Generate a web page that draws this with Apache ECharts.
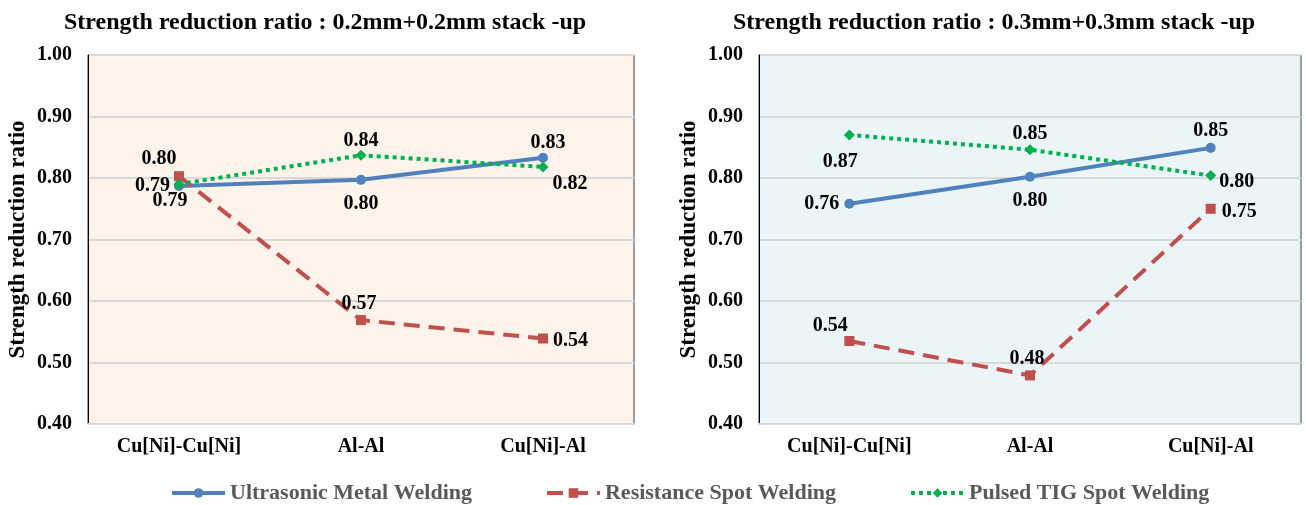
<!DOCTYPE html>
<html>
<head>
<meta charset="utf-8">
<script src="https://cdn.jsdelivr.net/npm/echarts@6/dist/echarts.min.js"></script>
<style>
html,body{margin:0;padding:0;background:#fff;}
#chart{width:1306px;height:505px;}
</style>
</head>
<body>
<div id="chart"></div>
<script>
// ---- data ----
const categories = ['Cu[Ni]-Cu[Ni]', 'Al-Al', 'Cu[Ni]-Al'];
const seriesNames = ['Ultrasonic Metal Welding', 'Resistance Spot Welding', 'Pulsed TIG Spot Welding'];
const titles = ['Strength reduction ratio : 0.2mm+0.2mm stack -up', 'Strength reduction ratio : 0.3mm+0.3mm stack -up'];
const yTicks = [0.40, 0.50, 0.60, 0.70, 0.80, 0.90, 1.00];
const yName = 'Strength reduction ratio';

const left_ultrasonic = [0.787, 0.797, 0.833];
const left_resistance = [0.803, 0.569, 0.539];
const left_tig        = [0.790, 0.837, 0.818];

const right_ultrasonic = [0.758, 0.802, 0.849];
const right_resistance = [0.535, 0.479, 0.750];
const right_tig        = [0.870, 0.846, 0.804];

// ---- styling ----
const FONT = '"Liberation Serif", "Times New Roman", serif';
const colors = ['#4F81BD', '#C0504D', '#00B050'];
const symbols = ['circle', 'rect', 'diamond'];
const symbolSizes = [10, 10, 11];
const lineTypes = ['solid', [16, 9], [4, 4]];

// label placement per chart / series / point
const L = (position, distance, offset) => ({ position, distance, offset: offset || [0, 0] });
const labelPlacement = [
  [
    [L('left', 4), L('bottom', 9), L('top', 0, [5, 0])],
    [L('top', 2, [-20, 0]), L('top', 1, [-2, 0]), L('right', 5, [0, 2])],
    [L('bottom', 1, [-9, 0]), L('top', -1), L('right', 4, [0, 17])]
  ],
  [
    [L('left', 5), L('bottom', 9), L('top', 2)],
    [L('top', 0, [-19, 0]), L('top', 2, [-3, 0]), L('right', 6, [0, 3])],
    [L('bottom', 11, [-9, 0]), L('top', 0), L('right', 3, [0, 6])]
  ]
];

const chartData = [
  [left_ultrasonic, left_resistance, left_tig],
  [right_ultrasonic, right_resistance, right_tig]
];

const grids = [
  { left: 88, right: 672, top: 55, bottom: 81, backgroundColor: '#FDF3EA' },
  { left: 759, right: 5, top: 55, bottom: 81, backgroundColor: '#EBF4F7' }
];

const chart = echarts.init(document.getElementById('chart'), null, { renderer: 'canvas' });

const series = [];
chartData.forEach((sets, gi) => {
  sets.forEach((vals, si) => {
    series.push({
      name: seriesNames[si],
      type: 'line',
      xAxisIndex: gi,
      yAxisIndex: gi,
      data: vals.map((v, pi) => {
        const p = labelPlacement[gi][si][pi];
        return { value: v, label: { position: p.position, distance: p.distance, offset: p.offset } };
      }),
      symbol: symbols[si],
      symbolSize: symbolSizes[si],
      showAllSymbol: true,
      color: colors[si],
      itemStyle: { color: colors[si] },
      lineStyle: { color: colors[si], width: 4, type: lineTypes[si], cap: 'butt' },
      label: {
        show: true,
        formatter: p => p.value.toFixed(2),
        fontFamily: FONT, fontWeight: 'bold', fontSize: 20, color: '#000'
      },
      emphasis: { disabled: true },
      z: 3 + si
    });
  });
});

const option = {
  animation: false,
  title: titles.map((t, i) => ({
    text: t,
    left: i === 0 ? 59 : 728,
    top: 6,
    textStyle: { fontFamily: FONT, fontWeight: 'bold', fontSize: 24, color: '#000' }
  })),
  legend: {
    data: seriesNames,
    top: 477,
    left: 165,
    itemWidth: 53,
    itemHeight: 12,
    itemGap: 73,
    lineStyle: { width: 4 },
    textStyle: { fontFamily: FONT, fontWeight: 'bold', fontSize: 22, color: '#595959' }
  },
  grid: grids.map(g => ({
    left: g.left, right: g.right, top: g.top, bottom: g.bottom,
    show: true, backgroundColor: g.backgroundColor,
    borderColor: '#404040', borderWidth: 1
  })),
  xAxis: grids.map((g, i) => ({
    type: 'category',
    gridIndex: i,
    data: categories,
    boundaryGap: true,
    axisTick: { show: false },
    axisLine: { show: true, lineStyle: { color: '#D9D9D9', width: 2 } },
    axisLabel: { margin: 13, fontFamily: FONT, fontWeight: 'bold', fontSize: 20, color: '#000' }
  })),
  yAxis: grids.map((g, i) => ({
    type: 'value',
    gridIndex: i,
    min: yTicks[0],
    max: yTicks[yTicks.length - 1],
    interval: 0.1,
    name: yName,
    nameLocation: 'middle',
    nameRotate: 90,
    nameGap: 58,
    nameTextStyle: { fontFamily: FONT, fontWeight: 'bold', fontSize: 23, color: '#000' },
    axisLine: { show: true, lineStyle: { color: '#000', width: 1 } },
    axisTick: { show: false },
    splitLine: { show: true, lineStyle: { color: '#D9D9D9', width: 2 } },
    axisLabel: {
      margin: 16,
      formatter: v => v.toFixed(2),
      fontFamily: FONT, fontWeight: 'bold', fontSize: 20, color: '#000'
    }
  })),
  series
};

chart.setOption(option);
</script>
</body>
</html>
